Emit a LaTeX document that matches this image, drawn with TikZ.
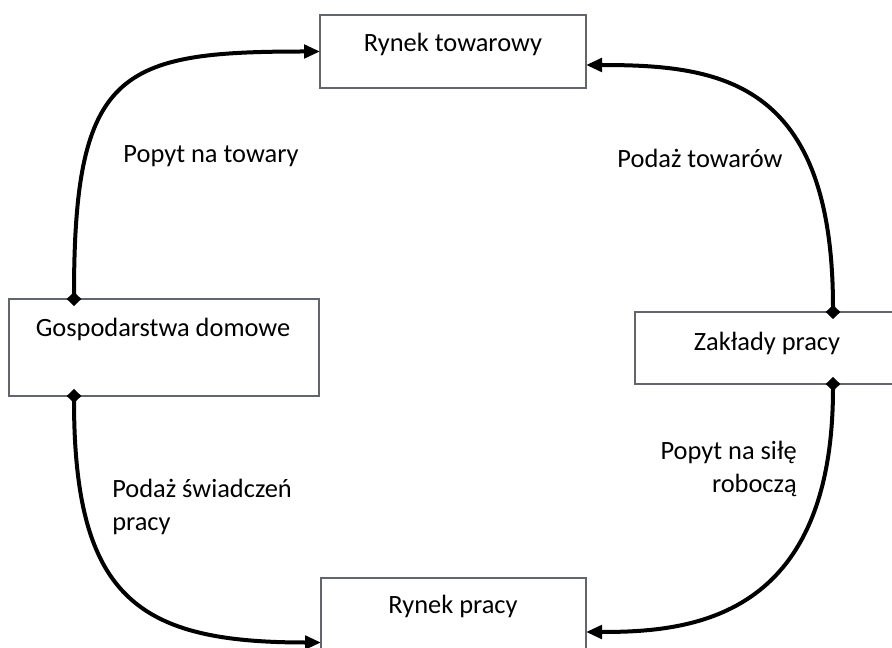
\documentclass[tikz,border=0pt]{standalone}
\usepackage{fontspec}
\setmainfont{Carlito}
\usetikzlibrary{arrows.meta,calc}
\definecolor{boxline}{RGB}{98,102,108}
\begin{document}
\begin{tikzpicture}[x=0.75pt,y=-0.75pt,
  font=\fontsize{19.8pt}{24.75pt}\selectfont,
  market/.style={draw=boxline,line width=1.5pt,rectangle,inner sep=0pt,outer sep=0pt},
  caption/.style={inner sep=0pt,anchor=base},
  flow/.style={line width=3pt,
    {Diamond[length=10.5pt,width=11pt]}-{Triangle[length=12pt,width=10pt]}}]
\useasboundingbox (0,0) rectangle (892,648);

% boxes
\node[market,minimum width=199.5pt,minimum height=54.75pt] (rt) at (453,51.5) {};
\node[market,minimum width=232.5pt,minimum height=72.75pt] (gd) at (164,347.5) {};
\node[market,minimum width=198.75pt,minimum height=54pt] (zp) at (767.5,348) {};
\node[market,minimum width=198.75pt,minimum height=54.75pt] (rp) at (453.5,614.5) {};

% box titles
\node[caption] (rtt) at (453,52) {Rynek towarowy};
\node[caption] (gdt) at (163,337) {Gospodarstwa domowe};
\node[caption] (zpt) at (767,351) {Zakłady pracy};
\node[caption] (rpt) at (453,613) {Rynek pracy};

% flow labels (the base anchor of a two-line label sits on its last line)
\node[caption] (l1) at (211,163) {Popyt na towary};
\node[caption] (l2) at (700,168) {Podaż towarów};
\node[caption,anchor=base west,align=left] (l3) at (112,530) {Podaż świadczeń\\pracy};
\node[caption,anchor=base east,align=right] (l4) at (797,492) {Popyt na siłę\\roboczą};

% flows
\draw[flow] ($(gd.north west)+(65,7)$) .. controls +(0,-236) and +(-200,0) .. (rt.west);
\draw[flow] ($(zp.north west)+(198,7)$) .. controls +(0,-239) and +(134,0) .. ($(rt.east)+(0,13.5)$);
\draw[flow] ($(gd.south west)+(65,-7)$) .. controls +(0,211) and +(-181,0) .. ($(rp.west)+(0,28)$);
\draw[flow] ($(zp.south west)+(198,-7)$) .. controls +(0,243) and +(104,0) .. ($(rp.east)+(0,17.5)$);
\end{tikzpicture}
\end{document}
